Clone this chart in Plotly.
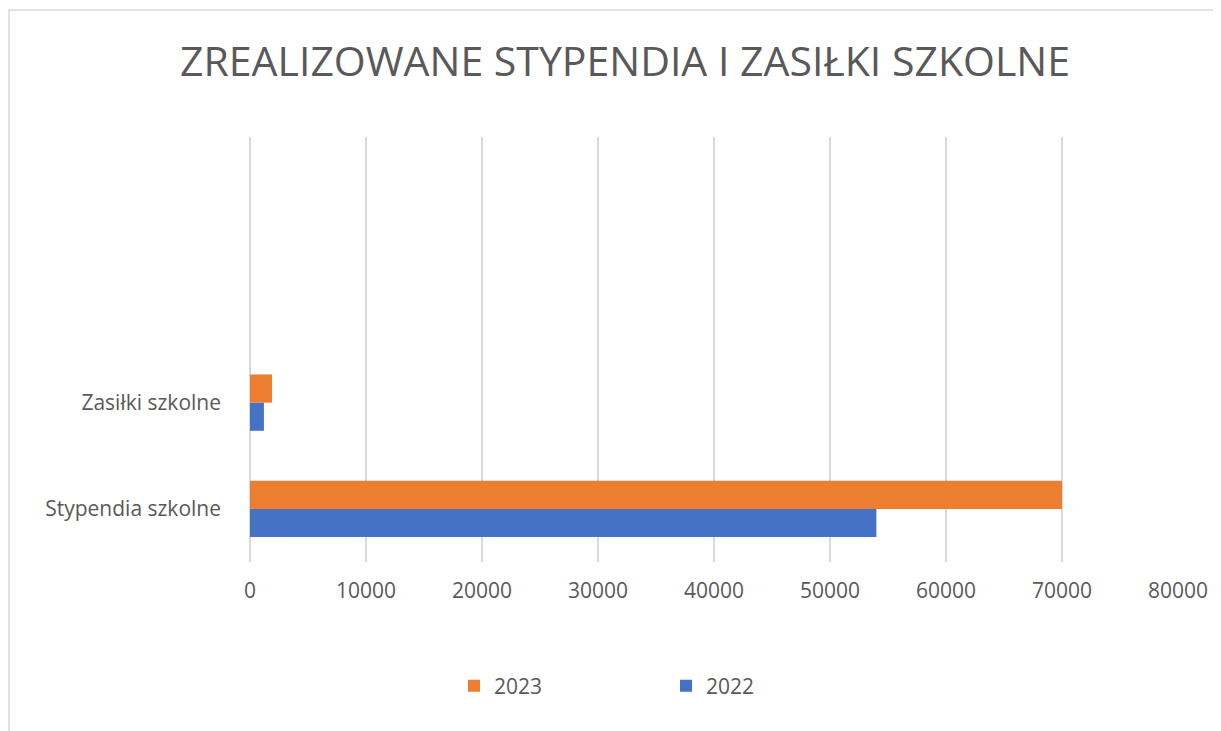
import plotly.graph_objects as go

categories = ["Stypendia szkolne", "Zasiłki szkolne", " ", "  "]
values_2022 = [54000, 1200, None, None]
values_2023 = [70000, 1900, None, None]
x_ticks = [0, 10000, 20000, 30000, 40000, 50000, 60000, 70000, 80000]
title_text = "ZREALIZOWANE STYPENDIA I ZASIŁKI SZKOLNE"

# the page body has an 8px margin, so the figure is offset by 8px (left and top)
OFF = 8
W, H = 1221 - OFF, 731 - OFF
L, R, T, B = 250 - OFF, 43, 137 - OFF, 169
pw, ph = W - L - R, H - T - B

text_color = "#595959"
grid_color = "#d9d9d9"
font_family = "Open Sans"

fig = go.Figure()
fig.add_trace(go.Bar(y=categories, x=values_2022, orientation="h", name="2022",
                     marker=dict(color="#4472C4", line=dict(width=0))))
fig.add_trace(go.Bar(y=categories, x=values_2023, orientation="h", name="2023",
                     marker=dict(color="#ED7D31", line=dict(width=0))))

fig.update_layout(
    width=W, height=H,
    margin=dict(l=L, r=R, t=T, b=B, pad=0),
    paper_bgcolor="white", plot_bgcolor="white",
    barmode="group", bargap=0.47, bargroupgap=0,
    font=dict(family=font_family, color=text_color),
    title=dict(text=title_text, x=(625 - OFF) / W, xanchor="center", xref="container",
               y=1 - (62 - OFF) / H, yanchor="middle", yref="container",
               font=dict(size=41, color=text_color, family=font_family)),
    legend=dict(orientation="h", traceorder="reversed",
                x=(454 - 250) / pw, xanchor="left",
                y=(562 - 686) / ph, yanchor="middle",
                entrywidth=167, entrywidthmode="pixels",
                font=dict(size=21, color=text_color), bgcolor="rgba(0,0,0,0)"),
    showlegend=True,
)

fig.update_xaxes(range=[0, 80000], tickvals=x_ticks, ticktext=[str(v) for v in x_ticks],
                 showgrid=True, gridcolor=grid_color, gridwidth=1.5,
                 zeroline=True, zerolinecolor=grid_color, zerolinewidth=1.5,
                 showline=False, ticks="", ticklabelstandoff=14,
                 tickfont=dict(size=21, color=text_color))
fig.update_yaxes(type="category", categoryorder="array", categoryarray=categories,
                 range=[-0.5, 3.5], showgrid=False, zeroline=False, showline=False,
                 ticks="", ticklabelstandoff=28,
                 tickfont=dict(size=21, color=text_color))

# outer chart frame (light gray, partly cut off on the right and bottom)
fig.add_shape(type="rect", xref="paper", yref="paper",
              x0=(9 - 250) / pw, x1=(1221 + 20 - 250) / pw,
              y0=(562 - (731 + 20)) / ph, y1=(562 - 10) / ph,
              line=dict(color=grid_color, width=1.5), fillcolor="rgba(0,0,0,0)", layer="below")

fig.write_html("out.html")
